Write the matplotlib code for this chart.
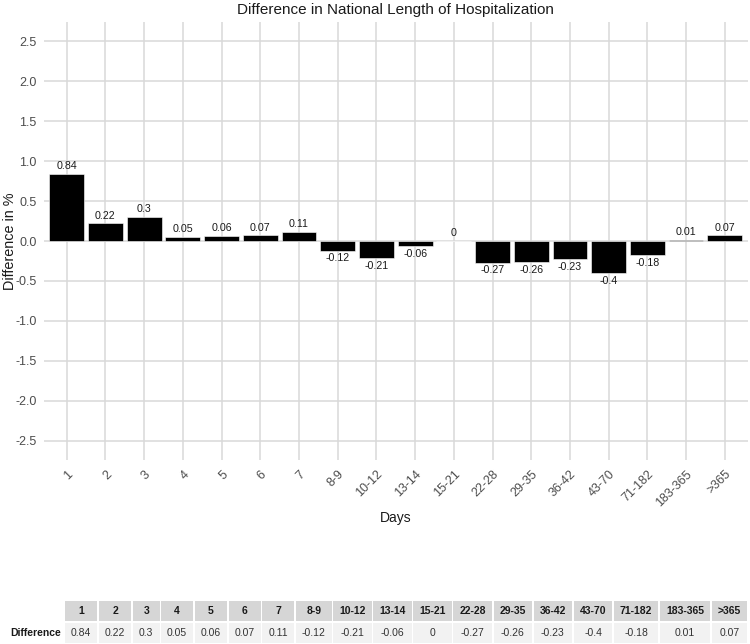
import matplotlib
matplotlib.use("Agg")
import matplotlib.pyplot as plt
from matplotlib.patches import Rectangle
import numpy as np

categories = ["1", "2", "3", "4", "5", "6", "7", "8-9", "10-12", "13-14", "15-21",
              "22-28", "29-35", "36-42", "43-70", "71-182", "183-365", ">365"]
values = [0.84, 0.22, 0.3, 0.05, 0.06, 0.07, 0.11, -0.12, -0.21, -0.06, 0,
          -0.27, -0.26, -0.23, -0.4, -0.18, 0.01, 0.07]
value_labels = ["0.84", "0.22", "0.3", "0.05", "0.06", "0.07", "0.11", "-0.12", "-0.21",
                "-0.06", "0", "-0.27", "-0.26", "-0.23", "-0.4", "-0.18", "0.01", "0.07"]
yticks = [-2.5, -2.0, -1.5, -1.0, -0.5, 0.0, 0.5, 1.0, 1.5, 2.0, 2.5]

plt.rcParams['font.family'] = ['Liberation Sans', 'DejaVu Sans']

W, H = 750, 644
fig = plt.figure(figsize=(W / 100, H / 100), dpi=100)

def px_x(x):
    return x / W

def px_y(y):
    return 1 - y / H

left, right, top, bottom = 43.5, 748, 22, 460
ax = fig.add_axes([px_x(left), px_y(bottom), px_x(right) - px_x(left), px_y(top) - px_y(bottom)])

x = np.arange(len(categories))
ax.bar(x, values, width=0.9, color="black", edgecolor="white", linewidth=0.4, zorder=3)
for xi, v, lab in zip(x, values, value_labels):
    if v >= 0:
        ax.annotate(lab, (xi, v), xytext=(0, 2), textcoords="offset points",
                    ha="center", va="bottom", fontsize=7.7, color="#1a1a1a", zorder=4)
    else:
        ax.annotate(lab, (xi, v), xytext=(0, -2), textcoords="offset points",
                    ha="center", va="top", fontsize=7.7, color="#1a1a1a", zorder=4)

ax.set_xlim(-0.6, len(categories) - 0.4)
ax.set_ylim(-2.74, 2.74)
ax.set_yticks(yticks)
ax.set_yticklabels([f"{t:.1f}" for t in yticks])
ax.set_xticks(x)
ax.set_xticklabels(categories, rotation=45, ha="right", va="top", rotation_mode="anchor")
ax.tick_params(axis="both", length=0, labelsize=9, labelcolor="#4d4d4d")
ax.tick_params(axis="x", pad=6)
ax.tick_params(axis="y", pad=5)
for s in ax.spines.values():
    s.set_visible(False)
ax.grid(True, color="#d9d9d9", linewidth=1.1, zorder=0)
ax.set_axisbelow(True)
ax.set_title("Difference in National Length of Hospitalization", fontsize=11, pad=6, color="#1a1a1a")
ax.set_xlabel("Days", fontsize=10, labelpad=1.5, color="#1a1a1a")
ax.set_ylabel("Difference in %", fontsize=10.4, labelpad=-1, color="#1a1a1a")

# ---- table below ----
renderer = fig.canvas.get_renderer()
fs_tab = 7.5
gap = 1.5
row_h = 20
y_head_top = 601
y_val_top = y_head_top + row_h + gap
tab_left, tab_right = 65, 747

def text_w(s, bold=False):
    t = fig.text(0, 0, s, fontsize=fs_tab, fontweight="bold" if bold else "normal")
    w = t.get_window_extent(renderer).width
    t.remove()
    return w

raw_ws = [max(text_w(c, True), text_w(v)) for c, v in zip(categories, value_labels)]
n = len(raw_ws)
pad = ((tab_right - tab_left) - sum(raw_ws) - gap * (n - 1)) / (2 * n)
col_ws = [w + 2 * pad for w in raw_ws]

row_label = "Difference"
fig.text(px_x(tab_left - 4), px_y(y_val_top + row_h / 2), row_label, fontsize=fs_tab,
         fontweight="bold", ha="right", va="center", color="#1a1a1a")
cx = tab_left
for c, v, w in zip(categories, value_labels, col_ws):
    fig.patches.append(Rectangle((px_x(cx), px_y(y_head_top + row_h)), w / W, row_h / H,
                                 transform=fig.transFigure, facecolor="#d6d6d6", edgecolor="none"))
    fig.patches.append(Rectangle((px_x(cx), px_y(y_val_top + row_h)), w / W, row_h / H,
                                 transform=fig.transFigure, facecolor="#f2f2f2", edgecolor="none"))
    fig.text(px_x(cx + w / 2), px_y(y_head_top + row_h / 2), c, fontsize=fs_tab,
             fontweight="bold", ha="center", va="center", color="#1a1a1a")
    fig.text(px_x(cx + w / 2), px_y(y_val_top + row_h / 2), v, fontsize=fs_tab,
             ha="center", va="center", color="#333333")
    cx += w + gap

fig.savefig("out.png", dpi=100)
